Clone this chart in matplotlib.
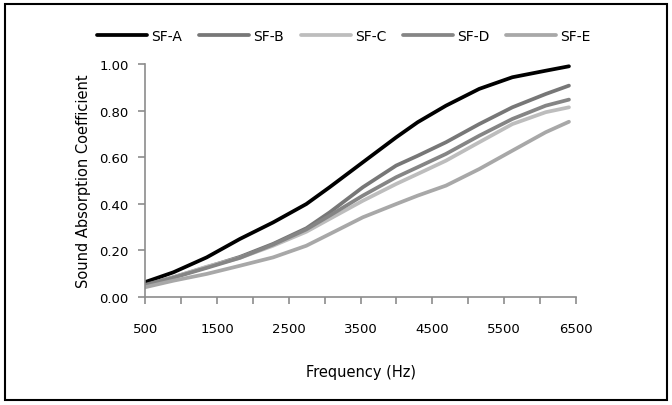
import matplotlib
matplotlib.use("Agg")
import matplotlib.pyplot as plt
from matplotlib.ticker import MultipleLocator, FuncFormatter
from matplotlib.patches import Rectangle

# Values
freq = [500, 893, 1357, 1819, 2282, 2745, 3069, 3532, 3996, 4296, 4690, 5153, 5615, 6079, 6403]
sf_a = [0.064, 0.106, 0.170, 0.249, 0.320, 0.399, 0.471, 0.578, 0.685, 0.750, 0.821, 0.893, 0.943, 0.971, 0.990]
sf_b = [0.052, 0.085, 0.128, 0.172, 0.228, 0.295, 0.363, 0.471, 0.564, 0.606, 0.664, 0.742, 0.814, 0.871, 0.907]
sf_c = [0.045, 0.085, 0.130, 0.168, 0.220, 0.280, 0.335, 0.413, 0.485, 0.528, 0.585, 0.664, 0.742, 0.793, 0.814]
sf_d = [0.050, 0.083, 0.125, 0.168, 0.225, 0.290, 0.349, 0.435, 0.514, 0.557, 0.614, 0.692, 0.764, 0.821, 0.847]
sf_e = [0.042, 0.070, 0.099, 0.134, 0.170, 0.220, 0.270, 0.342, 0.399, 0.435, 0.478, 0.549, 0.628, 0.707, 0.752]

labels = ["SF-A", "SF-B", "SF-C", "SF-D", "SF-E"]
colors = ["#000000", "#777777", "#bdbdbd", "#858585", "#a8a8a8"]

plt.rcParams['font.family'] = ['DejaVu Sans']

fig = plt.figure(figsize=(6.72, 4.06), dpi=100)
ax = fig.add_axes([0.216, 0.266, 0.641, 0.574])

for ys, lab, c in zip([sf_a, sf_b, sf_c, sf_d, sf_e], labels, colors):
    ax.plot(freq, ys, color=c, lw=2.7, label=lab, solid_capstyle="round",
            solid_joinstyle="round")

ax.set_xlim(500, 6500)
ax.set_ylim(0, 1)
ax.xaxis.set_major_locator(MultipleLocator(500))
ax.xaxis.set_major_formatter(FuncFormatter(lambda v, p: f"{int(v)}" if int(v) % 1000 == 500 else ""))
ax.yaxis.set_major_locator(MultipleLocator(0.2))
ax.yaxis.set_major_formatter(FuncFormatter(lambda v, p: f"{v:.2f}"))

for s in ["top", "right"]:
    ax.spines[s].set_visible(False)
for s in ["left", "bottom"]:
    ax.spines[s].set_color("#8c8c8c")
    ax.spines[s].set_linewidth(1.2)
ax.tick_params(axis="both", color="#8c8c8c", length=5, width=1.2, labelsize=9.5)
ax.tick_params(axis="x", pad=13)
ax.tick_params(axis="y", pad=7)

ax.set_xlabel("Frequency (Hz)", fontsize=10.5, labelpad=21)
ax.set_ylabel("Sound Absorption Coefficient", fontsize=10.5, labelpad=6)

fig.legend(loc="center", bbox_to_anchor=(0.512, 0.908), ncol=5, frameon=False,
           fontsize=10, handlelength=3.6, handletextpad=0.3, columnspacing=1.2)

fig.patches.append(Rectangle((0.008, 0.012), 0.984, 0.976, transform=fig.transFigure,
                             fill=False, edgecolor="black", linewidth=1.5))

fig.savefig("out.png", dpi=100)
